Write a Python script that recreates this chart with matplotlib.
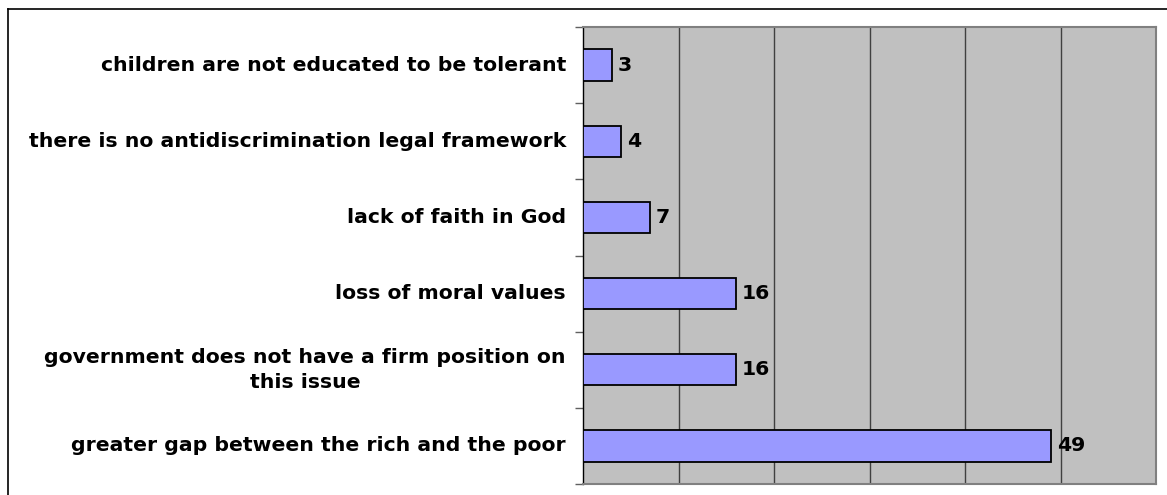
import matplotlib
matplotlib.use("Agg")
import matplotlib.pyplot as plt
from matplotlib.lines import Line2D

categories = [
    "greater gap between the rich and the poor",
    "government does not have a firm position on\nthis issue",
    "loss of moral values",
    "lack of faith in God",
    "there is no antidiscrimination legal framework",
    "children are not educated to be tolerant",
]
values = [49, 16, 16, 7, 4, 3]
x_max = 60
grid_ticks = [10, 20, 30, 40, 50]

plt.rcParams['font.family'] = ['DejaVu Sans']

fig = plt.figure(figsize=(11.67, 4.95), dpi=100)
ax = fig.add_axes([583/1167, 1 - 484/495, (1156-583)/1167, (484-27)/495])
ax.set_facecolor('#C0C0C0')

y = list(range(len(categories)))
ax.barh(y, values, height=0.41, color='#9999FF', edgecolor='black', linewidth=1.3, zorder=3)
for yi, v in zip(y, values):
    ax.annotate(str(v), xy=(v, yi), xytext=(6, 0), textcoords='offset pixels',
                va='center', ha='left', fontsize=14.65, fontweight='bold', zorder=4)

ax.set_xlim(0, x_max)
ax.set_ylim(-0.5, len(categories) - 0.5)
for g in grid_ticks:
    ax.axvline(g, color='#404040', linewidth=1.0, zorder=1)

ax.set_xticks([])
ax.set_yticks([i - 0.5 for i in range(len(categories) + 1)])
ax.set_yticklabels([])
ax.tick_params(axis='y', length=6, width=1, color='#606060', direction='out')
for yi, lab in zip(y, categories):
    ax.annotate(lab, xy=(0, yi), xycoords=('axes fraction', 'data'), xytext=(-17, 0),
                textcoords='offset pixels', ha='right', va='center',
                multialignment='center', fontsize=14.65, fontweight='bold', linespacing=1.42)

for s in ['top', 'right', 'bottom']:
    ax.spines[s].set_color('#808080')
    ax.spines[s].set_linewidth(1.5)
ax.spines['left'].set_color('black')
ax.spines['left'].set_linewidth(1.0)

# outer chart border (left and top visible)
fig.add_artist(Line2D([8/1167, 8/1167], [0, 1 - 9/495], transform=fig.transFigure, color='black', linewidth=1.2))
fig.add_artist(Line2D([8/1167, 1], [1 - 9/495, 1 - 9/495], transform=fig.transFigure, color='black', linewidth=1.2))

fig.savefig('out.png', dpi=100)
